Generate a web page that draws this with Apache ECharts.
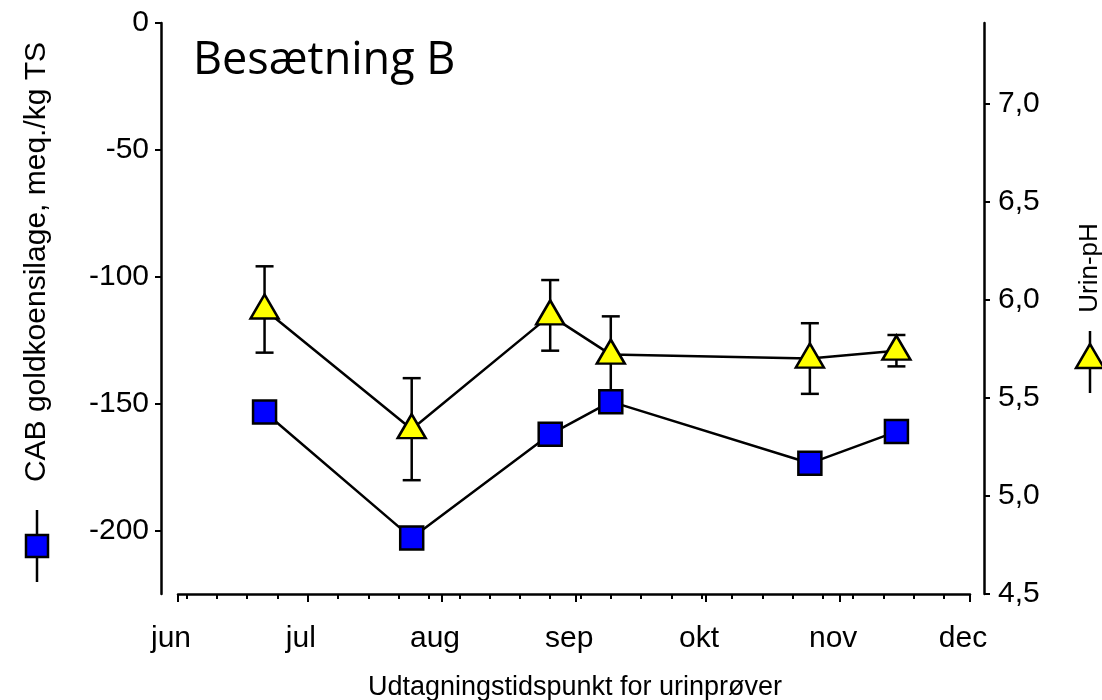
<!DOCTYPE html>
<html><head><meta charset="utf-8">
<script src="https://cdn.jsdelivr.net/npm/echarts@6/dist/echarts.min.js"></script>
<style>html,body{margin:0;padding:0;background:#fff}#c{width:1102px;height:700px}</style>
</head><body><div id="c"></div>
<script>
// ---- data ----
const sampleDates = ['2001-06-21','2001-07-25','2001-08-26','2001-09-09','2001-10-25','2001-11-14'];
const cabValues = [-153.3, -202.9, -162.1, -149.2, -173.5, -161.0];
const phValues = [5.95, 5.34, 5.92, 5.72, 5.70, 5.74];
const phErrors = [0.22, 0.26, 0.18, 0.195, 0.18, 0.08];
const monthTicks = ['2001-06-01','2001-07-01','2001-08-01','2001-09-01','2001-10-01','2001-11-01','2001-12-01'];
const monthLabels = ['jun','jul','aug','sep','okt','nov','dec'];
const weekTicks = ['2001-06-03','2001-06-10','2001-06-17','2001-06-24','2001-07-01','2001-07-08','2001-07-15','2001-07-22','2001-07-29',
  '2001-08-05','2001-08-12','2001-08-19','2001-08-26','2001-09-02','2001-09-09','2001-09-16','2001-09-23','2001-09-30',
  '2001-10-07','2001-10-14','2001-10-21','2001-10-28','2001-11-04','2001-11-11','2001-11-18','2001-11-25'];
const leftTicks = [-200, -150, -100, -50, 0];
const rightTicks = [4.5, 5.0, 5.5, 6.0, 6.5, 7.0];
const titleText = 'Besætning B';
const leftAxisTitle = 'CAB goldkoensilage, meq./kg TS';
const rightAxisTitle = 'Urin-pH';
const xAxisTitle = 'Udtagningstidspunkt for urinprøver';

// dates -> day number since 1 Jan (value axis)
function t(s){ const p = s.split('-').map(Number); return (Date.UTC(p[0], p[1]-1, p[2]) - Date.UTC(p[0],0,1)) / 86400000; }
const xMin = t(monthTicks[0]), xMax = t(monthTicks[monthTicks.length-1]);
const monthTs = monthTicks.map(t);
const weekTs = weekTicks.map(t);

const cabData = sampleDates.map((d,i)=>[t(d), cabValues[i]]);
const phData = sampleDates.map((d,i)=>[t(d), phValues[i]]);
const errData = sampleDates.map((d,i)=>[t(d), phValues[i]-phErrors[i], phValues[i]+phErrors[i]]);

const FONT = '"Liberation Sans", Arial, sans-serif';
const GRID_TOP = 23, GRID_BOTTOM = 106, H = 700;
const chart = echarts.init(document.getElementById('c'), null, {renderer:'canvas'});
chart.setOption({
  animation: false,
  backgroundColor: '#fff',
  title: {text: titleText, left: 188, top: 34, textStyle:{fontFamily:'"Open Sans", sans-serif', fontSize:45, fontWeight:'normal', color:'#000'}},
  grid: {left: 178, right: 132, top: GRID_TOP, bottom: GRID_BOTTOM},
  xAxis: [{
    type: 'value', min: xMin, max: xMax, position: 'bottom', offset: 0,
    axisLine: {show: true, onZero: false, lineStyle: {color:'#000', width: 2.5}},
    axisTick: {show: true, length: 8, lineStyle:{color:'#000', width:2}, customValues: monthTs},
    axisLabel: {show: true, customValues: monthTs, margin: 30, color:'#000', fontFamily: FONT, fontSize: 30,
      padding: [0, 14, 0, 0],
      formatter: v => { const i = monthTs.indexOf(v); return i>=0 ? monthLabels[i] : ''; }},
    splitLine: {show:false}
  },{
    // minor weekly ticks, placed on the bottom edge
    type: 'value', min: xMin, max: xMax, position: 'top', offset: -(H - GRID_TOP - GRID_BOTTOM),
    axisLine: {show: false, onZero: false},
    axisTick: {show: true, inside: true, length: 5, lineStyle:{color:'#000', width:2}, customValues: weekTs},
    axisLabel: {show: false},
    splitLine: {show:false}
  }],
  yAxis: [{
    type: 'value', min: -225, max: 0, position: 'left', offset: 17,
    axisLine: {show: true, onZero: false, lineStyle:{color:'#000', width:2.5}},
    axisTick: {show: true, length: 6, lineStyle:{color:'#000', width:2}, customValues: leftTicks},
    axisLabel: {customValues: leftTicks, margin: 12, color:'#000', fontFamily: FONT, fontSize: 30},
    splitLine: {show:false}
  },{
    type: 'value', min: 4.5, max: 7.41, position: 'right', offset: 14,
    axisLine: {show: true, onZero: false, lineStyle:{color:'#000', width:2.5}},
    axisTick: {show: true, length: 6, lineStyle:{color:'#000', width:2}, customValues: rightTicks},
    axisLabel: {customValues: rightTicks, margin: 14, color:'#000', fontFamily: FONT, fontSize: 30,
      formatter: v => v.toFixed(1).replace('.', ',')},
    splitLine: {show:false}
  }],
  series: [{
    type: 'custom', name: 'err', xAxisIndex: 0, yAxisIndex: 1, z: 2, silent: true,
    data: errData,
    renderItem: (params, api) => {
      const x = api.value(0);
      const lo = api.coord([x, api.value(1)]);
      const hi = api.coord([x, api.value(2)]);
      const w = 9;
      const st = {stroke:'#000', lineWidth: 2.5};
      return {type:'group', children:[
        {type:'line', shape:{x1:lo[0], y1:lo[1], x2:hi[0], y2:hi[1]}, style:st},
        {type:'line', shape:{x1:lo[0]-w, y1:lo[1], x2:lo[0]+w, y2:lo[1]}, style:st},
        {type:'line', shape:{x1:hi[0]-w, y1:hi[1], x2:hi[0]+w, y2:hi[1]}, style:st}
      ]};
    }
  },{
    type: 'line', name: 'Urin-pH', xAxisIndex: 0, yAxisIndex: 1, z: 3,
    data: phData, symbol: 'triangle', symbolSize: [28, 24], symbolOffset: [0, -3],
    itemStyle: {color:'#FFFF00', borderColor:'#000', borderWidth: 2.5},
    lineStyle: {color:'#000', width: 2.5}, emphasis: {disabled: true}
  },{
    type: 'line', name: 'CAB', xAxisIndex: 0, yAxisIndex: 0, z: 4,
    data: cabData, symbol: 'rect', symbolSize: 23,
    itemStyle: {color:'#0000FF', borderColor:'#000', borderWidth: 2.5},
    lineStyle: {color:'#000', width: 2.5}, emphasis: {disabled: true}
  }],
  graphic: [
    {type:'text', x: 37, y: 262, rotation: Math.PI/2, style:{text: leftAxisTitle, fill:'#000', font: '30px ' + FONT, align:'center', verticalAlign:'middle'}},
    {type:'line', shape:{x1:37, y1:510, x2:37, y2:582}, style:{stroke:'#000', lineWidth:2.5}},
    {type:'rect', shape:{x:26, y:535, width:22, height:22}, style:{fill:'#0000FF', stroke:'#000', lineWidth:2.5}},
    {type:'text', x: 1090, y: 268, rotation: Math.PI/2, style:{text: rightAxisTitle, fill:'#000', font: '26px ' + FONT, align:'center', verticalAlign:'middle'}},
    {type:'line', shape:{x1:1090, y1:331, x2:1090, y2:393}, style:{stroke:'#000', lineWidth:2.5}},
    {type:'polygon', shape:{points:[[1076,368],[1104,368],[1090,344]]}, style:{fill:'#FFFF00', stroke:'#000', lineWidth:2.5}},
    {type:'text', x: 575, y: 688, style:{text: xAxisTitle, fill:'#000', font: '27px ' + FONT, align:'center', verticalAlign:'middle'}}
  ]
});
</script></body></html>
